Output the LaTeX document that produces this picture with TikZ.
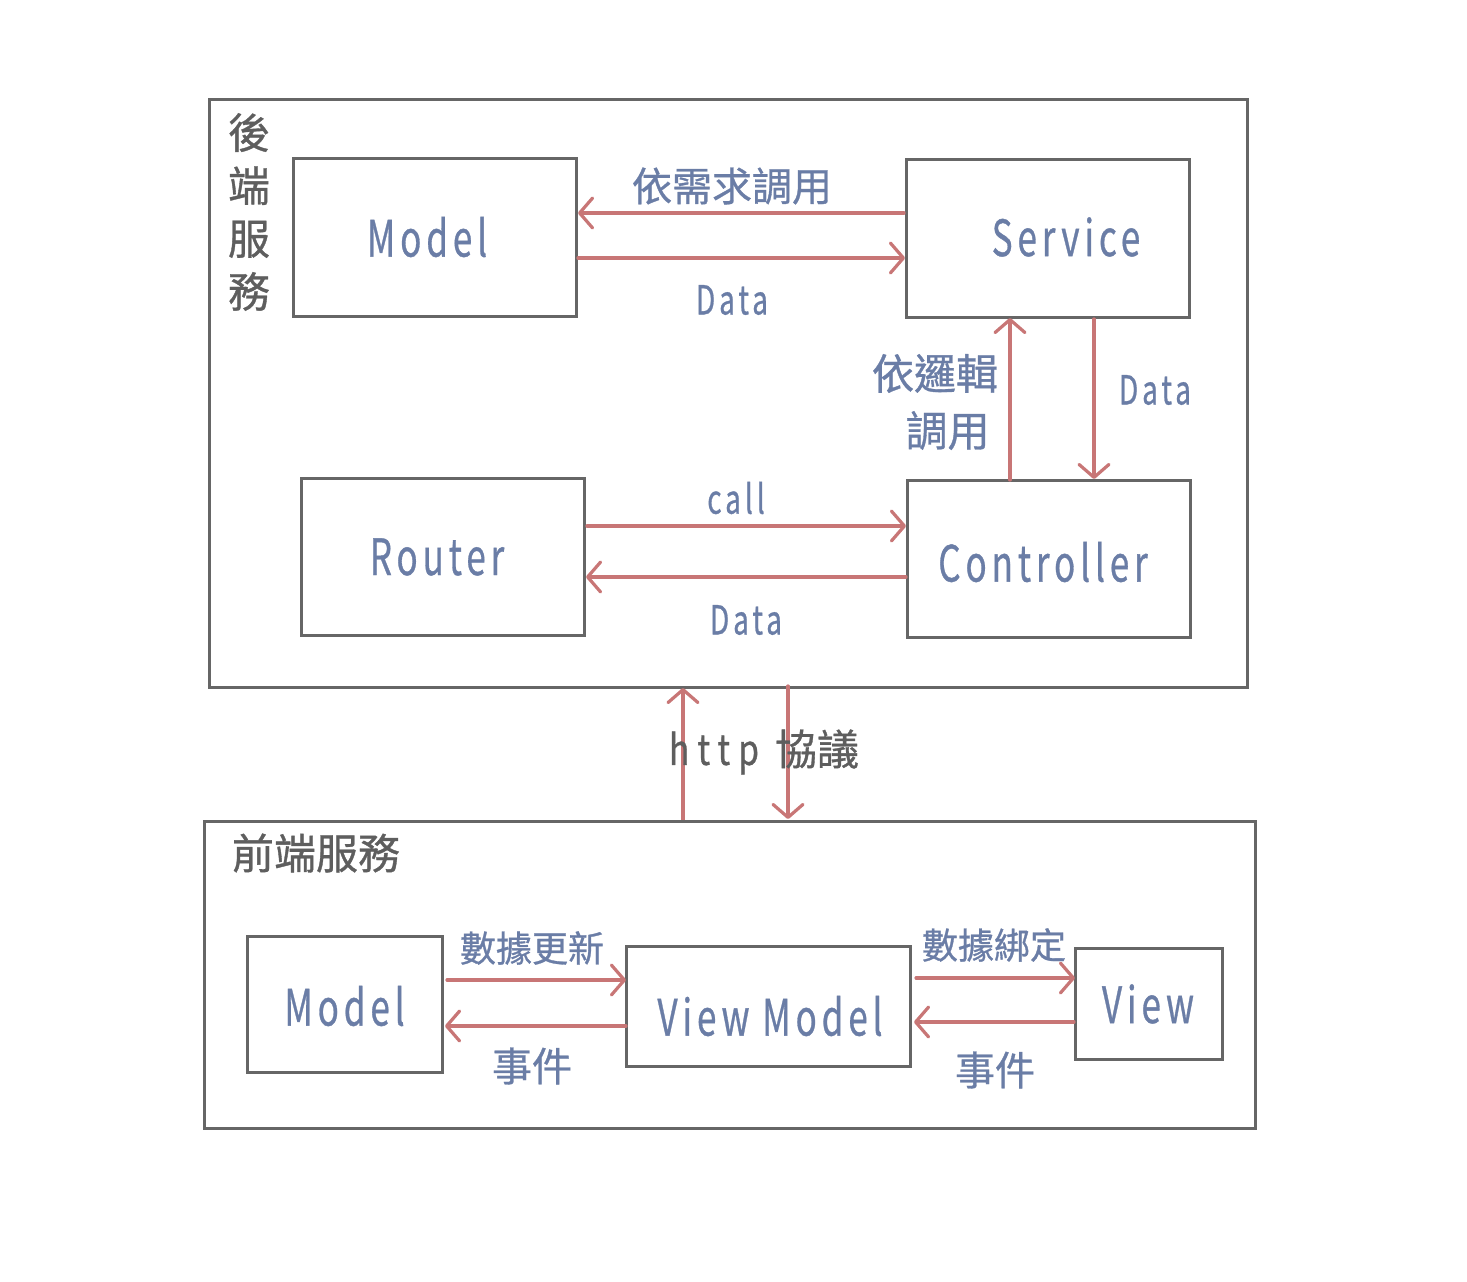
\documentclass[tikz,border=0pt]{standalone}
\usepackage{fontspec}
\usepackage{graphicx}
\setmainfont{Noto Sans CJK TC}
\usetikzlibrary{arrows.meta}
\definecolor{boxgray}{HTML}{666666}
\definecolor{arrred}{HTML}{C87676}
\definecolor{txtblue}{HTML}{6A7DA6}
\definecolor{txtgray}{HTML}{5E5E5E}
\newcommand{\lat}[1]{\scalebox{0.7}[1]{\addfontfeature{LetterSpace=14}#1}}
\newcommand{\hb}{\addfontfeature{FakeBold=0.8}}
\begin{document}
\begin{tikzpicture}[x=1pt,y=-1pt,
  box/.style={draw=boxgray,line width=3pt,fill=none},
  conn/.style={draw=arrred,line width=3.2pt,line cap=round,
    -{Straight Barb[length=13pt,width=30pt,line width=3.2pt,round]}},
  lbl/.style={text=txtblue,font=\fontsize{40}{44}\selectfont\hb,inner sep=0pt},
  glbl/.style={text=txtgray,font=\fontsize{42}{48}\selectfont\hb,inner sep=0pt},
  big/.style={text=txtblue,font=\fontsize{50}{54}\selectfont\hb,inner sep=0pt}]
\useasboundingbox (0,0) rectangle (1467,1282);
\fill[white] (0,0) rectangle (1467,1282);

% backend
\draw[box] (209,99) rectangle (1247,687);
\node[glbl,align=center,font=\fontsize{42}{53}\selectfont\hb] (bk) at (249,212) {後\\端\\服\\務};

\draw[box] (293,158) rectangle (576,316);
\node[big] (bm) at (427,237) {\lat{Model}};
\coordinate (bmE1) at (578,213);
\coordinate (bmE2) at (578,258);

\draw[box] (906,159) rectangle (1189,317);
\node[big] (sv) at (1066,237) {\lat{Service}};
\coordinate (svW1) at (904,213);
\coordinate (svW2) at (905,258);
\coordinate (svS1) at (1010,318);
\coordinate (svS2) at (1094,319);

\draw[box] (301,478) rectangle (584,635);
\node[big] (rt) at (437,557) {\lat{Router}};
\coordinate (rtE1) at (587,526);
\coordinate (rtE2) at (586,577);

\draw[box] (907,480) rectangle (1190,637);
\node[big] (ct) at (1043,562) {\lat{Controller}};
\coordinate (ctW1) at (906,526);
\coordinate (ctW2) at (906,577);
\coordinate (ctN1) at (1010,480);
\coordinate (ctN2) at (1094,479);

\draw[conn] (svW1) -- (bmE1);
\draw[conn] (bmE2) -- (svW2);
\node[lbl] (l1) at (732,186) {依需求調用};
\node[lbl] (l2) at (732,300) {\lat{Data}};

\draw[conn] (ctN1) -- (svS1);
\draw[conn] (svS2) -- (ctN2);
\node[lbl,align=center,font=\fontsize{42}{57}\selectfont\hb] (l3) at (935,402) {依邏輯\\\hspace*{0.6em}調用};
\node[lbl] (l4) at (1155,390) {\lat{Data}};

\draw[conn] (rtE1) -- (ctW1);
\draw[conn] (ctW2) -- (rtE2);
\node[lbl] (l5) at (736,498) {\lat{call}};
\node[lbl] (l6) at (746,620) {\lat{Data}};

% http
\coordinate (fbU) at (683,820);
\coordinate (bbU) at (683,688);
\coordinate (bbD) at (788,686);
\coordinate (fbD) at (788,819);
\draw[conn] (fbU) -- (bbU);
\draw[conn] (bbD) -- (fbD);
\node[glbl] (http) at (764,752) {\scalebox{0.8}[1]{\addfontfeature{LetterSpace=24}http}\hspace{16pt}協議};

% frontend
\draw[box] (204,821) rectangle (1255,1128);
\node[glbl] (fe) at (316,853) {前端服務};

\draw[box] (247,936) rectangle (442,1072);
\node[big] (fm) at (344.5,1006) {\lat{Model}};
\draw[box] (626,946) rectangle (910,1066);
\node[big] (vm) at (770,1016) {\lat{View Model}};
\draw[box] (1075,948) rectangle (1222,1059);
\node[big] (vw) at (1148,1004) {\lat{View}};

\coordinate (fmE1) at (447,980);
\coordinate (fmE2) at (445,1026);
\coordinate (vmW1) at (626,980);
\coordinate (vmW2) at (626,1026);
\coordinate (vmE1) at (916,978);
\coordinate (vmE2) at (914,1022);
\coordinate (vwW1) at (1075,978);
\coordinate (vwW2) at (1074,1022);

\draw[conn] (fmE1) -- (vmW1);
\draw[conn] (vmW2) -- (fmE2);
\draw[conn] (vmE1) -- (vwW1);
\draw[conn] (vwW2) -- (vmE2);
\node[lbl,font=\fontsize{36}{40}\selectfont\hb] (l7) at (532,948) {數據更新};
\node[lbl] (l8) at (532,1066) {事件};
\node[lbl,font=\fontsize{36}{40}\selectfont\hb] (l9) at (994,945) {數據綁定};
\node[lbl] (l10) at (995,1070) {事件};
\end{tikzpicture}
\end{document}
